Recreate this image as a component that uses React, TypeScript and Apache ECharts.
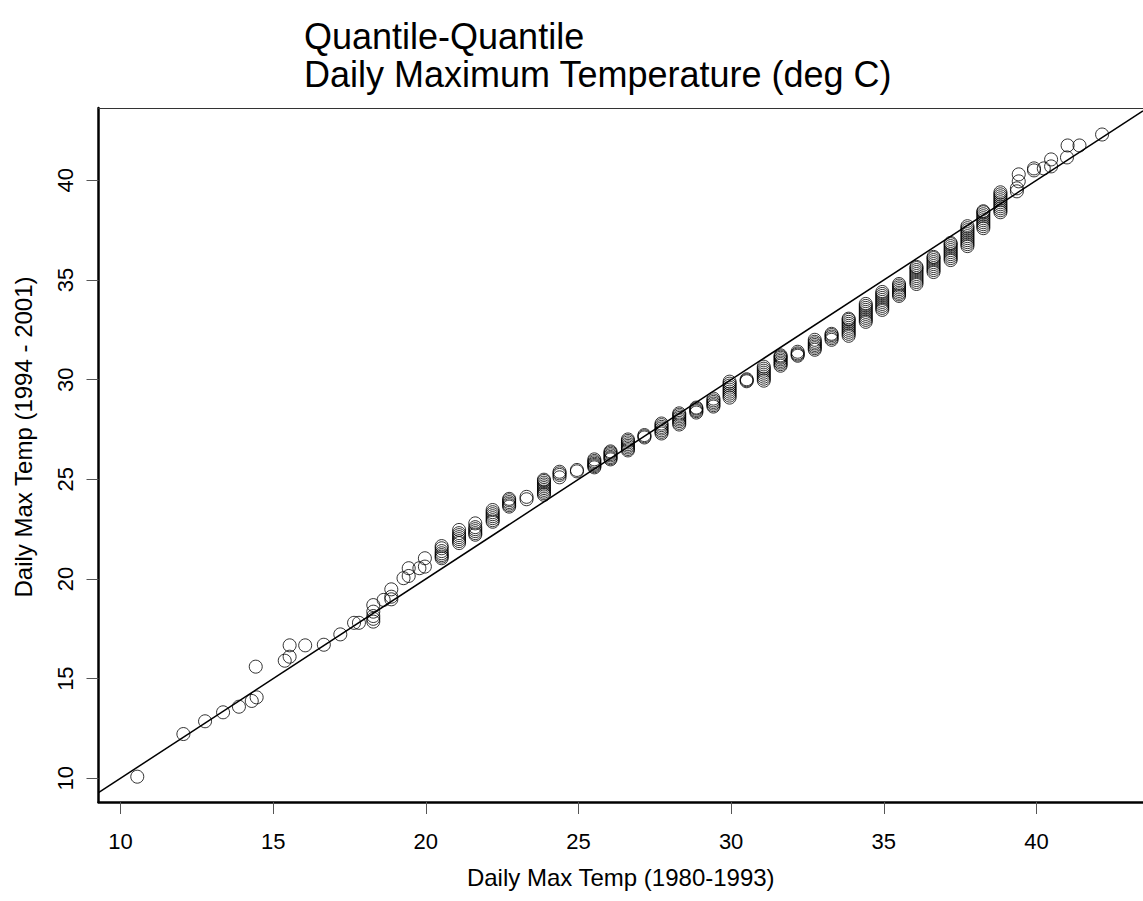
import React, { useEffect, useRef } from "react";
import * as echarts from "echarts";

// Quantiles of daily max temperature (deg C), 1980-1993 (x) vs 1994-2001 (y)
const qx1980 = [
  10.55, 12.06, 12.77, 13.36, 13.88, 14.30, 14.46, 14.43, 15.38, 15.54, 15.54, 16.05, 16.66, 17.20, 17.65, 17.81,
  18.28, 18.28, 18.28, 18.28, 18.28,
  18.62,
  18.87, 18.87, 18.87,
  19.27,
  19.44, 19.44,
  19.79,
  19.97, 19.97,
  20.52, 20.52, 20.52, 20.52, 20.52, 20.52, 20.52,
  21.09, 21.09, 21.09, 21.09, 21.09, 21.09, 21.09,
  21.62, 21.62, 21.62, 21.62, 21.62, 21.62,
  22.19, 22.19, 22.19, 22.19, 22.19, 22.19, 22.19,
  22.73, 22.73, 22.73, 22.73, 22.73, 22.73,
  23.30, 23.30,
  23.87, 23.87, 23.87, 23.87, 23.87, 23.87, 23.87, 23.87, 23.87, 23.87,
  24.38, 24.38, 24.38, 24.38,
  24.95, 24.95,
  25.52, 25.52, 25.52, 25.52, 25.52, 25.52, 25.52,
  26.05, 26.05, 26.05, 26.05, 26.05, 26.05, 26.05,
  26.62, 26.62, 26.62, 26.62, 26.62, 26.62, 26.62, 26.62,
  27.16, 27.16, 27.16,
  27.72, 27.72, 27.72, 27.72, 27.72, 27.72, 27.72,
  28.30, 28.30, 28.30, 28.30, 28.30, 28.30, 28.30, 28.30,
  28.86, 28.86, 28.86, 28.86, 28.86,
  29.42, 29.42, 29.42, 29.42, 29.42, 29.42,
  29.95, 29.95, 29.95, 29.95, 29.95, 29.95, 29.95, 29.95, 29.95,
  30.51, 30.51, 30.51,
  31.07, 31.07, 31.07, 31.07, 31.07, 31.07, 31.07, 31.07,
  31.62, 31.62, 31.62, 31.62, 31.62, 31.62, 31.62, 31.62,
  32.18, 32.18, 32.18, 32.18,
  32.74, 32.74, 32.74, 32.74, 32.74, 32.74, 32.74,
  33.29, 33.29, 33.29, 33.29, 33.29,
  33.85, 33.85, 33.85, 33.85, 33.85, 33.85, 33.85, 33.85, 33.85, 33.85,
  34.41, 34.41, 34.41, 34.41, 34.41, 34.41, 34.41, 34.41, 34.41, 34.41,
  34.95, 34.95, 34.95, 34.95, 34.95, 34.95, 34.95, 34.95, 34.95, 34.95,
  35.50, 35.50, 35.50, 35.50, 35.50, 35.50, 35.50, 35.50,
  36.07, 36.07, 36.07, 36.07, 36.07, 36.07, 36.07, 36.07, 36.07, 36.07,
  36.63, 36.63, 36.63, 36.63, 36.63, 36.63, 36.63, 36.63, 36.63,
  37.19, 37.19, 37.19, 37.19, 37.19, 37.19, 37.19, 37.19, 37.19, 37.19,
  37.74, 37.74, 37.74, 37.74, 37.74, 37.74, 37.74, 37.74, 37.74, 37.74, 37.74,
  38.26, 38.26, 38.26, 38.26, 38.26, 38.26, 38.26, 38.26, 38.26, 38.26,
  38.82, 38.82, 38.82, 38.82, 38.82, 38.82, 38.82, 38.82, 38.82, 38.82, 38.82,
  39.36, 39.36,
  39.42, 39.42,
  39.92, 39.92,
  40.24,
  40.48, 40.48,
  41.00, 41.02, 41.41, 42.15,
];

const qy1994 = [
  10.08, 12.22, 12.86, 13.31, 13.59, 13.88, 14.06, 15.60, 15.90, 16.10, 16.67, 16.67, 16.70, 17.22, 17.80, 17.80,
  17.86, 18.00, 18.14, 18.36, 18.69,
  18.95,
  18.98, 19.11, 19.48,
  20.04,
  20.15, 20.54,
  20.54,
  20.62, 21.04,
  21.04, 21.12, 21.20, 21.29, 21.40, 21.54, 21.65,
  21.80, 21.90, 22.00, 22.10, 22.20, 22.30, 22.46,
  22.22, 22.30, 22.40, 22.50, 22.60, 22.79,
  22.87, 22.95, 23.05, 23.15, 23.25, 23.35, 23.46,
  23.63, 23.70, 23.78, 23.86, 23.95, 24.02,
  24.00, 24.12,
  24.22, 24.30, 24.38, 24.47, 24.56, 24.65, 24.74, 24.83, 24.92, 24.98,
  25.10, 25.22, 25.30, 25.38,
  25.40, 25.47,
  25.60, 25.66, 25.72, 25.78, 25.85, 25.92, 26.00,
  26.00, 26.06, 26.12, 26.20, 26.27, 26.34, 26.40,
  26.45, 26.52, 26.60, 26.68, 26.76, 26.85, 26.93, 27.00,
  27.10, 27.16, 27.22,
  27.30, 27.38, 27.46, 27.55, 27.63, 27.72, 27.80,
  27.75, 27.83, 27.92, 28.00, 28.08, 28.16, 28.24, 28.31,
  28.35, 28.42, 28.48, 28.55, 28.60,
  28.65, 28.72, 28.80, 28.88, 28.96, 29.05,
  29.10, 29.20, 29.30, 29.40, 29.50, 29.60, 29.70, 29.80, 29.90,
  29.92, 29.97, 30.02,
  29.95, 30.05, 30.15, 30.25, 30.35, 30.45, 30.55, 30.65,
  30.70, 30.78, 30.86, 30.94, 31.02, 31.10, 31.16, 31.22,
  31.20, 31.26, 31.32, 31.40,
  31.50, 31.58, 31.66, 31.74, 31.82, 31.90, 32.00,
  32.00, 32.08, 32.16, 32.24, 32.30,
  32.20, 32.30, 32.40, 32.50, 32.60, 32.70, 32.80, 32.90, 33.00, 33.06,
  32.90, 33.00, 33.10, 33.20, 33.30, 33.40, 33.50, 33.60, 33.70, 33.80,
  33.50, 33.60, 33.70, 33.80, 33.90, 34.00, 34.10, 34.20, 34.30, 34.40,
  34.20, 34.28, 34.36, 34.45, 34.54, 34.63, 34.72, 34.80,
  34.80, 34.90, 35.00, 35.10, 35.20, 35.30, 35.40, 35.50, 35.60, 35.66,
  35.40, 35.50, 35.60, 35.70, 35.80, 35.90, 36.00, 36.10, 36.16,
  36.00, 36.10, 36.20, 36.30, 36.40, 36.50, 36.60, 36.70, 36.80, 36.86,
  36.70, 36.80, 36.90, 37.00, 37.10, 37.20, 37.30, 37.40, 37.50, 37.60, 37.70,
  37.60, 37.70, 37.80, 37.90, 38.00, 38.10, 38.20, 38.30, 38.40, 38.45,
  38.40, 38.50, 38.60, 38.70, 38.80, 38.90, 39.00, 39.10, 39.20, 39.30, 39.40,
  39.45, 39.60,
  39.95, 40.30,
  40.50, 40.60,
  40.60,
  40.70, 41.05,
  41.15, 41.75, 41.75, 42.30,
];

const xTicks = [10, 15, 20, 25, 30, 35, 40];
const yTicks = [10, 15, 20, 25, 30, 35, 40];
const xRange = [9.28, 43.49];
const yRange = [8.81, 43.63];

const titleText = "Quantile-Quantile\nDaily Maximum Temperature (deg C)";
const xLabel = "Daily Max Temp (1980-1993)";
const yLabel = "Daily Max Temp (1994 - 2001)";

const FONT = "Liberation Sans, Arial, Helvetica, sans-serif";

export default function App() {
  const ref = useRef<HTMLDivElement>(null);
  useEffect(() => {
    if (!ref.current) return;
    const chart = echarts.init(ref.current, undefined, { renderer: "svg" });
    const pts = qx1980.map((x, i) => [x, qy1994[i]]);
    chart.setOption({
      animation: false,
      backgroundColor: "#fff",
      title: {
        text: titleText,
        left: 299,
        top: 12,
        textStyle: {
          fontFamily: FONT,
          fontSize: 36,
          fontWeight: "normal",
          color: "#000",
          lineHeight: 38,
        },
      },
      grid: { left: 98.5, right: -10.5, top: 108, bottom: 99, containLabel: false },
      xAxis: [
        {
          type: "value",
          min: xRange[0],
          max: xRange[1],
          position: "bottom",
          splitLine: { show: false },
          axisLine: { show: true, onZero: false, lineStyle: { color: "#000", width: 2.5 } },
          axisTick: { show: true, length: 12, customValues: xTicks, lineStyle: { color: "#555", width: 1 } },
          axisLabel: {
            customValues: xTicks,
            margin: 28,
            fontFamily: FONT,
            fontSize: 22,
            color: "#000",
          },
          name: xLabel,
          nameLocation: "middle",
          nameGap: 63,
          nameTextStyle: { fontFamily: FONT, fontSize: 24, color: "#000" },
        },
        {
          type: "value",
          min: xRange[0],
          max: xRange[1],
          position: "top",
          splitLine: { show: false },
          axisLine: { show: true, onZero: false, lineStyle: { color: "#333", width: 1.2 } },
          axisTick: { show: false },
          axisLabel: { show: false },
        },
      ],
      yAxis: {
        type: "value",
        min: yRange[0],
        max: yRange[1],
        splitLine: { show: false },
        axisLine: { show: true, onZero: false, lineStyle: { color: "#000", width: 2.5 } },
        axisTick: { show: true, length: 12, customValues: yTicks, lineStyle: { color: "#555", width: 1 } },
        axisLabel: {
          customValues: yTicks,
          rotate: 90,
          margin: 22,
          fontFamily: FONT,
          fontSize: 22,
          color: "#000",
        },
        name: yLabel,
        nameLocation: "middle",
        nameGap: 63,
        nameTextStyle: { fontFamily: FONT, fontSize: 24, color: "#000", padding: [0, 0, 0, 36] },
      },
      series: [
        {
          type: "scatter",
          data: pts,
          symbol: "circle",
          symbolSize: 13,
          itemStyle: { color: "rgba(0,0,0,0)", borderColor: "#000", borderWidth: 1 },
          z: 2,
        },
        {
          type: "line",
          data: [
            [xRange[0], xRange[0]],
            [xRange[1], xRange[1]],
          ],
          showSymbol: false,
          symbol: "none",
          lineStyle: { color: "#000", width: 1.5 },
          silent: true,
          z: 3,
        },
      ],
    });
    return () => chart.dispose();
  }, []);
  return (
    <div
      ref={ref}
      style={{ position: "absolute", left: 0, top: 0, width: 1143, height: 901, background: "#fff" }}
    />
  );
}
